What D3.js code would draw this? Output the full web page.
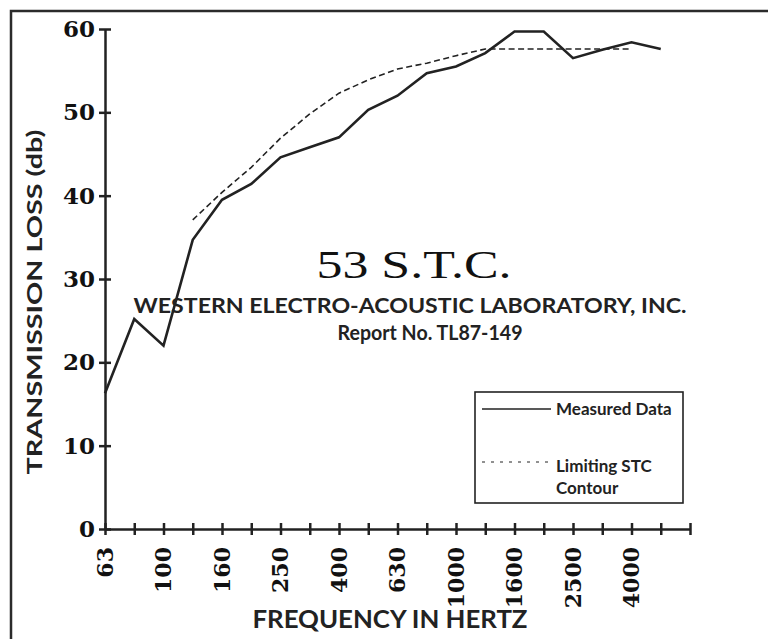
<!DOCTYPE html>
<html>
<head>
<meta charset="utf-8">
<script src="https://cdn.jsdelivr.net/npm/d3@7"></script>
<style>
  body { margin: 0; background: #fff; }
</style>
</head>
<body>
<svg id="chart" width="768" height="639"></svg>
<script>
// one-third octave bands shown on the x axis
var freqs = ["63", "80", "100", "125", "160", "200", "250", "315", "400", "500", "630",
             "800", "1000", "1250", "1600", "2000", "2500", "3150", "4000", "5000", "6300"]
var freqLabels = ["63", "100", "160", "250", "400", "630", "1000", "1600", "2500", "4000"]

var measuredFreqs = freqs.slice(0, 20)
var measured = [16.3, 25.2, 22.0, 34.7, 39.5, 41.4, 44.6, 45.8, 47.0, 50.3,
                52.0, 54.7, 55.5, 57.1, 59.7, 59.7, 56.5, 57.5, 58.4, 57.6]

var stcFreqs = freqs.slice(3, 19)
var stcValues = [37.1, 40.4, 43.4, 46.9, 49.8, 52.3, 53.9, 55.2,
                 55.9, 56.8, 57.6, 57.6, 57.6, 57.6, 57.6, 57.6]

var yTicks = [0, 10, 20, 30, 40, 50, 60]

var ink = "#222"
var sans = "Lato, 'Open Sans', sans-serif"
var serif = "'DejaVu Serif', serif"

var svg = d3.select("#chart")

// frame (left + top only, runs off the picture)
svg.append("rect")
    .attr("x", 11).attr("y", 11)
    .attr("width", 800).attr("height", 700)
    .style("fill", "none")
    .style("stroke", "#2b2b2b")
    .style("stroke-width", 2.5)

var x = d3.scalePoint().domain(freqs).range([105, 690])
var y = d3.scaleLinear().domain([0, 60]).range([529, 29])

// y axis
var yAxis = svg.append("g")
    .attr("transform", "translate(105,0)")
    .call(d3.axisLeft(y).tickValues(yTicks).tickSize(6).tickSizeOuter(0).tickPadding(4))
yAxis.select(".domain").style("stroke", ink).style("stroke-width", 2.5)
yAxis.selectAll(".tick line").attr("x1", 6).style("stroke", ink).style("stroke-width", 2.5)
yAxis.selectAll(".tick text")
    .style("font-family", serif).style("font-weight", "bold").style("font-size", "23px")
    .style("fill", "#111")

// x axis
var xAxis = svg.append("g")
    .attr("transform", "translate(0,529)")
    .call(d3.axisBottom(x).tickSize(6).tickSizeOuter(0).tickFormat(""))
xAxis.select(".domain").style("stroke", ink).style("stroke-width", 2.5)
xAxis.selectAll(".tick line").attr("y1", -6).style("stroke", ink).style("stroke-width", 2.5)

svg.append("g").selectAll("text")
    .data(freqLabels)
    .enter().append("text")
    .attr("transform", function(d) { return "translate(" + x(d) + ",547) rotate(-90)" })
    .attr("dy", "0.35em")
    .attr("text-anchor", "end")
    .style("font-family", serif).style("font-weight", "bold").style("font-size", "22px")
    .style("fill", "#111")
    .text(function(d) { return d })

// data lines
var line = d3.line()
    .x(function(d) { return x(d[0]) })
    .y(function(d) { return y(d[1]) })

svg.append("path")
    .datum(d3.zip(stcFreqs, stcValues))
    .attr("d", line)
    .style("fill", "none")
    .style("stroke", ink)
    .style("stroke-width", 1.6)
    .style("stroke-dasharray", "6,3.5")

svg.append("path")
    .datum(d3.zip(measuredFreqs, measured))
    .attr("d", line)
    .style("fill", "none")
    .style("stroke", ink)
    .style("stroke-width", 2.6)
    .style("stroke-linejoin", "miter")

// axis titles
svg.append("text")
    .attr("transform", "translate(42,302) rotate(-90)")
    .attr("text-anchor", "middle")
    .attr("textLength", 345)
    .attr("lengthAdjust", "spacingAndGlyphs")
    .style("font-family", sans).style("font-weight", "bold").style("font-size", "21px")
    .style("fill", ink)
    .text("TRANSMISSION LOSS (db)")

svg.append("text")
    .attr("x", 390).attr("y", 628)
    .attr("text-anchor", "middle")
    .attr("textLength", 275)
    .attr("lengthAdjust", "spacingAndGlyphs")
    .style("font-family", sans).style("font-weight", "bold").style("font-size", "24px")
    .style("fill", ink)
    .text("FREQUENCY IN HERTZ")

// annotation block
svg.append("text")
    .attr("x", 414).attr("y", 278)
    .attr("text-anchor", "middle")
    .attr("textLength", 195)
    .attr("lengthAdjust", "spacingAndGlyphs")
    .style("font-family", "'Liberation Serif', serif").style("font-size", "41px")
    .style("fill", "#111")
    .text("53 S.T.C.")

svg.append("text")
    .attr("x", 410).attr("y", 313)
    .attr("text-anchor", "middle")
    .attr("textLength", 553)
    .attr("lengthAdjust", "spacingAndGlyphs")
    .style("font-family", sans).style("font-weight", "bold").style("font-size", "20px")
    .style("fill", ink)
    .text("WESTERN ELECTRO-ACOUSTIC LABORATORY, INC.")

svg.append("text")
    .attr("x", 430).attr("y", 340)
    .attr("text-anchor", "middle")
    .attr("textLength", 185)
    .attr("lengthAdjust", "spacingAndGlyphs")
    .style("font-family", sans).style("font-weight", "bold").style("font-size", "20px")
    .style("fill", ink)
    .text("Report No. TL87-149")

// legend
var legend = svg.append("g")
legend.append("rect")
    .attr("x", 475).attr("y", 392)
    .attr("width", 208).attr("height", 111)
    .style("fill", "#fff")
    .style("stroke", ink)
    .style("stroke-width", 1.6)

legend.append("line")
    .attr("x1", 482).attr("x2", 551).attr("y1", 409).attr("y2", 409)
    .style("stroke", ink).style("stroke-width", 1.6)
legend.append("line")
    .attr("x1", 482).attr("x2", 551).attr("y1", 462).attr("y2", 462)
    .style("stroke", ink).style("stroke-width", 1)
    .style("stroke-dasharray", "3,6")

var legendText = [["Measured Data", 415], ["Limiting STC", 472], ["Contour", 494]]
legend.selectAll("text.lbl")
    .data(legendText)
    .enter().append("text")
    .attr("class", "lbl")
    .attr("x", 556)
    .attr("y", function(d) { return d[1] })
    .style("font-family", sans).style("font-weight", "bold").style("font-size", "17px")
    .style("fill", ink)
    .text(function(d) { return d[0] })
</script>
</body>
</html>
